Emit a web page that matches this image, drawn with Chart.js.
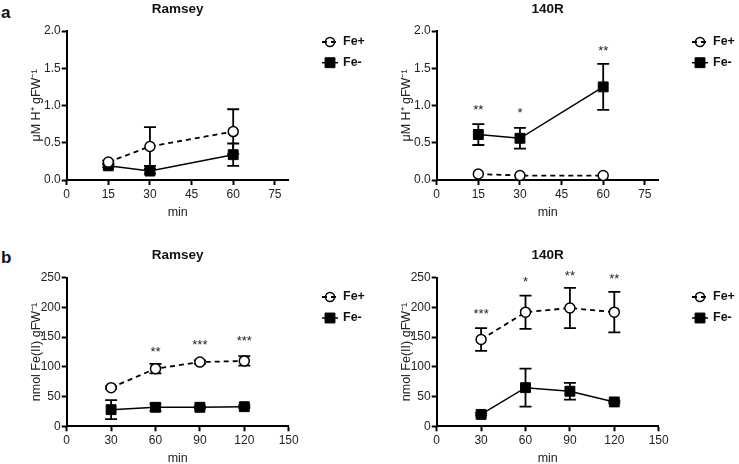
<!DOCTYPE html>
<html>
<head>
<meta charset="utf-8">
<script src="https://cdn.jsdelivr.net/npm/chart.js@4.4.0/dist/chart.umd.min.js"></script>
<style>
body { margin: 0; background: #fff; width: 739px; height: 464px; position: relative; overflow: hidden; font-family: "Liberation Sans", Arial, sans-serif; }
.panel { position: absolute; width: 370px; height: 232px; }
.tag { position: absolute; font-weight: bold; font-size: 17px; line-height: 17px; color: #111; }
</style>
</head>
<body>
<div class="tag" style="left:1px;top:4px">a</div>
<div class="tag" style="left:1px;top:249px">b</div>
<div class="panel" style="left:0;top:0"><canvas id="c1" width="370" height="232"></canvas></div>
<div class="panel" style="left:370px;top:0"><canvas id="c2" width="370" height="232"></canvas></div>
<div class="panel" style="left:0;top:232px"><canvas id="c3" width="370" height="232"></canvas></div>
<div class="panel" style="left:370px;top:232px"><canvas id="c4" width="370" height="232"></canvas></div>
<script>
// panel a : proton extrusion, min 15/30/60
var minA = [15, 30, 60];
var ramseyH_plus = [0.24, 0.45, 0.65];
var ramseyH_plusErr = [0.02, 0.26, 0.30];
var ramseyH_minus = [0.19, 0.12, 0.34];
var ramseyH_minusErr = [0.02, 0.03, 0.15];
var ramseyH_stars = ['', '', ''];
var ramseyH_starY = [0, 0, 0];

var r140H_plus = [0.08, 0.06, 0.06];
var r140H_plusErr = [0, 0, 0];
var r140H_minus = [0.61, 0.56, 1.25];
var r140H_minusErr = [0.14, 0.14, 0.31];
var r140H_stars = ['**', '*', '**'];
var r140H_starY = [0.98, 0.94, 1.78];

// panel b : Fe(III) reduction, min 30/60/90/120
var minB = [30, 60, 90, 120];
var ramseyFe_plus = [65, 97, 108, 110];
var ramseyFe_plusErr = [2, 8, 3, 8];
var ramseyFe_minus = [28, 32, 32, 33];
var ramseyFe_minusErr = [16, 6, 2, 2];
var ramseyFe_stars = ['', '**', '***', '***'];
var ramseyFe_starY = [0, 131, 142, 149];

var r140Fe_plus = [146, 192, 199, 192];
var r140Fe_plusErr = [19, 28, 34, 34];
var r140Fe_minus = [20, 65, 59, 41];
var r140Fe_minusErr = [2, 32, 14, 2];
var r140Fe_stars = ['***', '*', '**', '**'];
var r140Fe_starY = [194, 248, 258, 254];

var xTicksA = [0, 15, 30, 45, 60, 75];
var xTicksB = [0, 30, 60, 90, 120, 150];

Chart.defaults.font.family = '"Liberation Sans", Arial, sans-serif';
Chart.defaults.color = '#222';

function pts(xs, ys) {
	return xs.map((x, i) => ({ x: x, y: ys[i] }));
}

var errorBars = {
	id: 'errorBars',
	beforeDatasetsDraw(chart) {
		var ctx = chart.ctx, sx = chart.scales.x, sy = chart.scales.y;
		ctx.save();
		ctx.strokeStyle = '#000';
		ctx.lineWidth = 1.8;
		chart.data.datasets.forEach(ds => {
			ds.data.forEach((p, i) => {
				var e = ds.errors[i];
				if (!e) return;
				var x = sx.getPixelForValue(p.x);
				var y1 = sy.getPixelForValue(p.y + e), y2 = sy.getPixelForValue(p.y - e);
				ctx.beginPath();
				ctx.moveTo(x, y1); ctx.lineTo(x, y2);
				ctx.moveTo(x - 6, y1); ctx.lineTo(x + 6, y1);
				ctx.moveTo(x - 6, y2); ctx.lineTo(x + 6, y2);
				ctx.stroke();
			});
		});
		ctx.restore();
	}
};

var starsAndLegend = {
	id: 'starsAndLegend',
	afterDraw(chart) {
		var ctx = chart.ctx, sx = chart.scales.x, sy = chart.scales.y;
		var opt = chart.options.plugins.starsAndLegend;
		ctx.save();
		// significance stars
		ctx.fillStyle = '#222';
		ctx.font = '13px "Liberation Sans", Arial, sans-serif';
		ctx.textAlign = 'center';
		ctx.textBaseline = 'alphabetic';
		opt.stars.forEach((s, i) => {
			if (!s) return;
			ctx.fillText(s, sx.getPixelForValue(opt.starX[i]), sy.getPixelForValue(opt.starY[i]) + 7.5);
		});
		// legend (line runs through the open circle, like the original)
		chart.data.datasets.forEach((ds, i) => {
			var y = opt.legendY[i];
			var open = ds.pointStyle === 'circle';
			ctx.strokeStyle = '#000';
			ctx.lineWidth = ds.borderWidth;
			ctx.setLineDash(ds.borderDash || []);
			ctx.beginPath();
			ctx.moveTo(opt.legendX - 8, y);
			ctx.lineTo(opt.legendX + 8, y);
			ctx.stroke();
			ctx.setLineDash([]);
			ctx.fillStyle = open ? 'rgba(0,0,0,0)' : ds.pointBackgroundColor;
			ctx.lineWidth = ds.pointBorderWidth;
			Chart.helpers.drawPoint(ctx, {
				pointStyle: ds.pointStyle,
				radius: open ? 4.5 : ds.pointRadius,
				borderWidth: ds.pointBorderWidth,
				rotation: 0
			}, opt.legendX, y);
			ctx.fillStyle = '#111';
			ctx.font = 'bold 12.5px "Liberation Sans", Arial, sans-serif';
			ctx.textAlign = 'left';
			ctx.textBaseline = 'middle';
			ctx.fillText(ds.label, opt.legendX + 13, y);
		});
		ctx.restore();
	}
};

function makeChart(id, cfg) {
	var axisTicks = {
		drawOnChartArea: false, drawTicks: true, tickLength: 5,
		tickWidth: 2, tickColor: '#000'
	};
	return new Chart(document.getElementById(id), {
		type: 'line',
		data: {
			datasets: [{
				label: 'Fe+',
				data: pts(cfg.xs, cfg.plus),
				errors: cfg.plusErr,
				borderColor: '#000',
				borderWidth: 1.8,
				borderDash: [5, 4],
				pointStyle: 'circle',
				pointRadius: 5,
				pointBorderWidth: 1.5,
				pointBackgroundColor: '#fff',
				pointBorderColor: '#000'
			}, {
				label: 'Fe-',
				data: pts(cfg.xs, cfg.minus),
				errors: cfg.minusErr,
				borderColor: '#000',
				borderWidth: 1.5,
				pointStyle: 'rect',
				pointRadius: 7,
				pointBorderWidth: 1,
				pointBackgroundColor: '#000',
				pointBorderColor: '#000'
			}]
		},
		options: {
			responsive: false,
			animation: false,
			layout: { padding: { left: 0, right: 81.3, top: 0, bottom: 0 } },
			plugins: {
				legend: { display: false },
				tooltip: { enabled: false },
				title: {
					display: true, text: cfg.title, fullSize: false, color: '#111',
					font: { size: 13.5, weight: 'bold' },
					padding: { top: cfg.titleTop, bottom: cfg.titleBottom }
				},
				starsAndLegend: {
					stars: cfg.stars, starX: cfg.xs, starY: cfg.starY,
					legendX: 330, legendY: cfg.legendY
				}
			},
			scales: {
				x: {
					type: 'linear', min: 0, max: cfg.xMax,
					afterFit: s => { s.height = cfg.xAxisH; },
					afterBuildTicks: s => { s.ticks = cfg.xTicks.map(v => ({ value: v })); },
					ticks: { font: { size: 12 }, padding: 2, maxRotation: 0 },
					grid: axisTicks,
					border: { color: '#000', width: 2 },
					title: { display: true, text: 'min', font: { size: 12.5 }, color: '#222', padding: { top: 0, bottom: cfg.minPad } }
				},
				y: {
					type: 'linear', min: 0, max: cfg.yMax,
					afterFit: s => { s.width = 66.7; },
					ticks: {
						stepSize: cfg.yStep, font: { size: 12 }, padding: 1,
						callback: v => cfg.yDec ? v.toFixed(cfg.yDec) : v
					},
					grid: axisTicks,
					border: { color: '#000', width: 2 },
					title: { display: true, text: cfg.yTitle, font: { size: 12.5 }, color: '#222', padding: { top: 29, bottom: 0 } }
				}
			}
		},
		plugins: [errorBars, starsAndLegend]
	});
}

var aCommon = {
	xs: minA, xMax: 80, xTicks: xTicksA, yMax: 2, yStep: 0.5, yDec: 1,
	yTitle: 'μM H⁺ gFW⁻¹', titleTop: 1, titleBottom: 13.8, xAxisH: 52, minPad: 12,
	legendY: [42, 62.7]
};
var bCommon = {
	xs: minB, xMax: 150, xTicks: xTicksB, yMax: 250, yStep: 50, yDec: 0,
	yTitle: 'nmol Fe(II) gFW⁻¹', titleTop: 15.2, titleBottom: 14.3, xAxisH: 37.7, minPad: -2,
	legendY: [65, 86]
};

makeChart('c1', Object.assign({}, aCommon, {
	title: 'Ramsey', plus: ramseyH_plus, plusErr: ramseyH_plusErr,
	minus: ramseyH_minus, minusErr: ramseyH_minusErr, stars: ramseyH_stars, starY: ramseyH_starY
}));
makeChart('c2', Object.assign({}, aCommon, {
	title: '140R', plus: r140H_plus, plusErr: r140H_plusErr,
	minus: r140H_minus, minusErr: r140H_minusErr, stars: r140H_stars, starY: r140H_starY
}));
makeChart('c3', Object.assign({}, bCommon, {
	title: 'Ramsey', plus: ramseyFe_plus, plusErr: ramseyFe_plusErr,
	minus: ramseyFe_minus, minusErr: ramseyFe_minusErr, stars: ramseyFe_stars, starY: ramseyFe_starY
}));
makeChart('c4', Object.assign({}, bCommon, {
	title: '140R', plus: r140Fe_plus, plusErr: r140Fe_plusErr,
	minus: r140Fe_minus, minusErr: r140Fe_minusErr, stars: r140Fe_stars, starY: r140Fe_starY
}));
</script>
</body>
</html>
